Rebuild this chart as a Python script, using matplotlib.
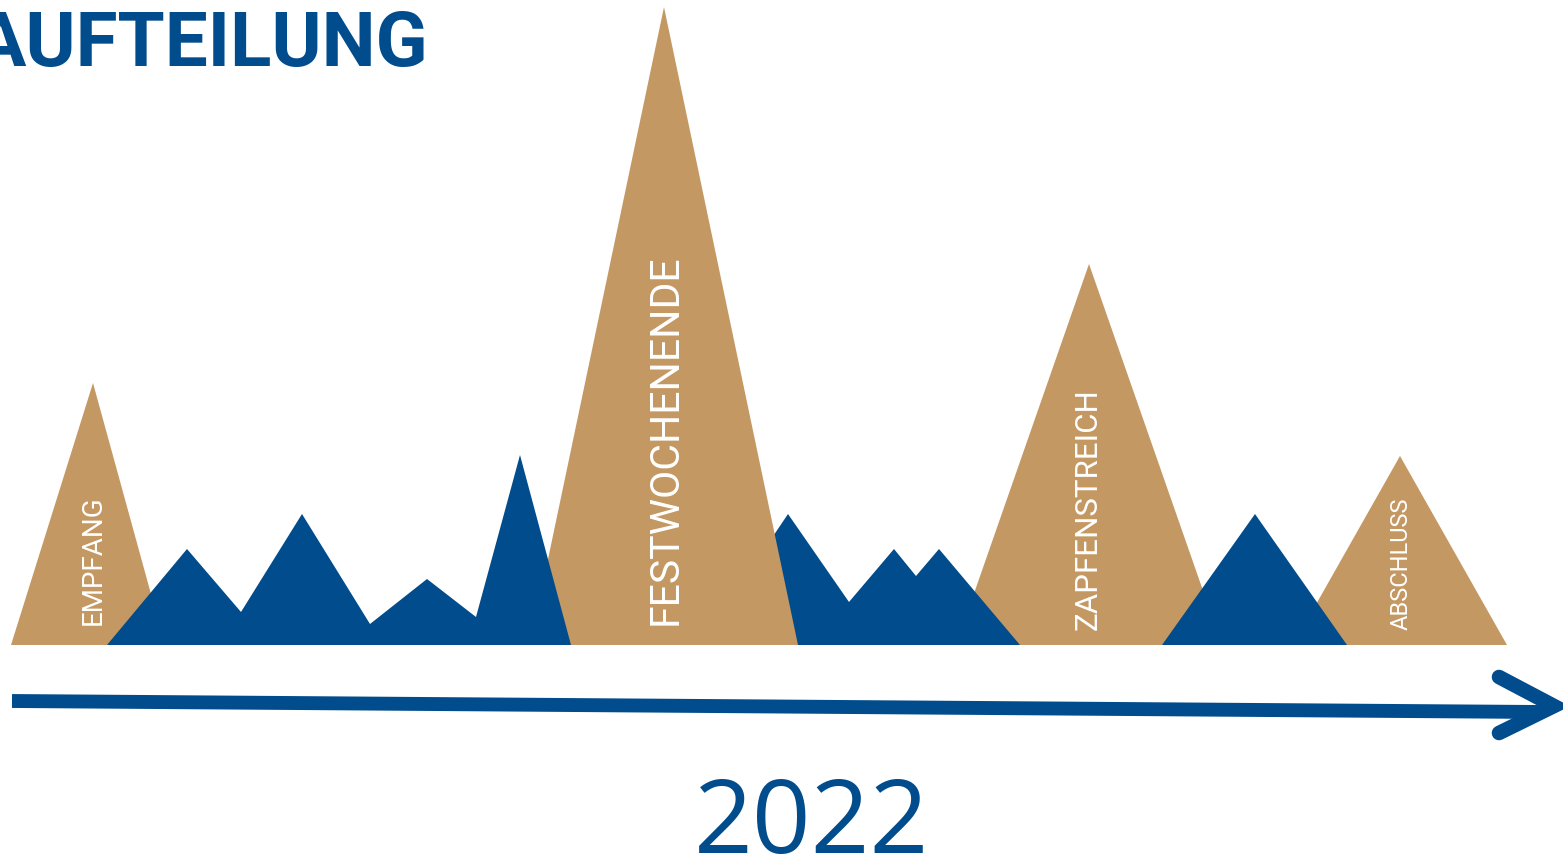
import matplotlib
matplotlib.use("Agg")
import matplotlib.pyplot as plt
from matplotlib.patches import Polygon

GOLD = "#C49862"
BLUE = "#014C8C"

# Gold event triangles: (left base x, peak x, right base x, peak y)
events = ["EMPFANG", "FESTWOCHENENDE", "ZAPFENSTREICH", "ABSCHLUSS"]
ev_left = [11, 530, 956, 1293]
ev_peak_x = [93, 664, 1089, 1400]
ev_right = [165, 798, 1222, 1507]
ev_peak_y = [383, 7, 264, 456]
ev_label_fs = [20, 29.5, 22.5, 17]
ev_label_x = [93, 665, 1088, 1401]
ev_label_y = [625, 625, 630, 630]
ev_zorder = [1, 3, 1, 1]

# Blue mountain ranges (outline vertices)
range1_x = [107, 187, 241, 302, 370, 427, 476, 520, 571]
range1_y = [645, 549, 612, 514, 624, 579, 617, 455, 645]
range2_x = [700, 788, 849, 894, 916, 939, 1020]
range2_y = [645, 514, 602, 549, 576, 549, 645]
range3_x = [1162, 1255, 1347]
range3_y = [645, 514, 645]
base_y = 645

title = "AUFTEILUNG"
year = "2022"

fig = plt.figure(figsize=(15.63, 8.61), dpi=100)
ax = fig.add_axes([0, 0, 1, 1])
ax.set_xlim(0, 1563)
ax.set_ylim(861, 0)
ax.axis("off")

for i, name in enumerate(events):
    poly = Polygon([(ev_left[i], base_y), (ev_peak_x[i], ev_peak_y[i]), (ev_right[i], base_y)],
                   closed=True, facecolor=GOLD, edgecolor="none", zorder=ev_zorder[i])
    ax.add_patch(poly)
    ax.text(ev_label_x[i], ev_label_y[i], name, rotation=90, color="white", fontsize=ev_label_fs[i],
            family="Roboto", ha="center", va="bottom", zorder=ev_zorder[i] + 0.5)

ax.add_patch(Polygon(list(zip(range1_x, range1_y)), closed=True, facecolor=BLUE, edgecolor="none", zorder=4))
ax.add_patch(Polygon(list(zip(range2_x, range2_y)), closed=True, facecolor=BLUE, edgecolor="none", zorder=2))
ax.add_patch(Polygon(list(zip(range3_x, range3_y)), closed=True, facecolor=BLUE, edgecolor="none", zorder=2))

# timeline arrow
ax.plot([12, 1540], [701, 712], color=BLUE, lw=10, solid_capstyle="butt", zorder=5)
ax.plot([1499, 1554, 1499], [677, 706, 733], color=BLUE, lw=10.5, solid_capstyle="round",
        solid_joinstyle="miter", zorder=5)

ax.text(-25, 66, title, color=BLUE, fontsize=55, fontweight="bold", family="Roboto",
        ha="left", va="baseline")
ax.text(812, 853, year, color=BLUE, fontsize=74, family="Open Sans", ha="center", va="baseline")

fig.savefig("out.png", dpi=100)
